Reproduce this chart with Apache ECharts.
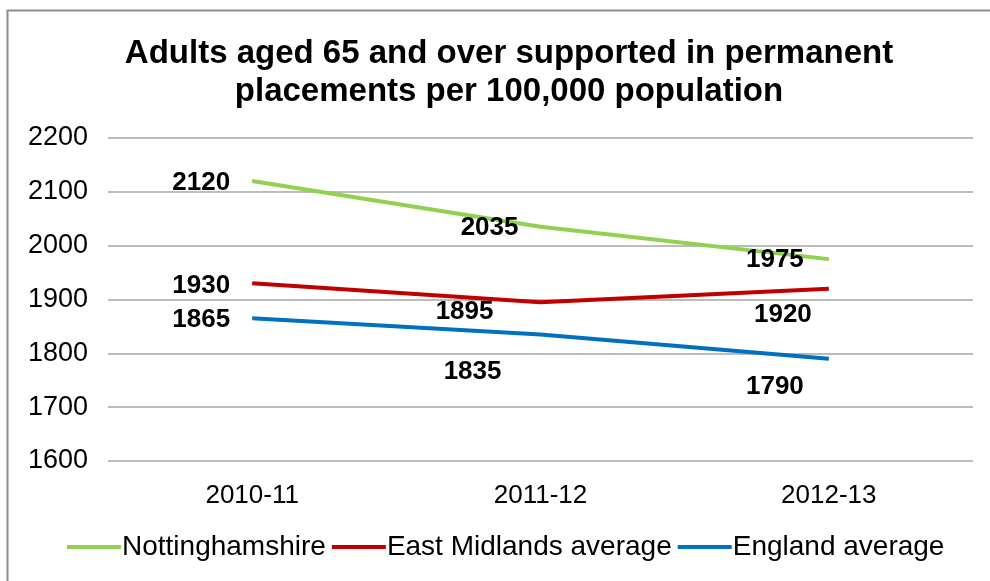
<!DOCTYPE html>
<html>
<head>
<meta charset="utf-8">
<script src="https://cdn.jsdelivr.net/npm/echarts@6/dist/echarts.min.js"></script>
<style>
  html, body { margin: 0; padding: 0; background: #fff; }
  #chart { width: 990px; height: 581px; }
</style>
</head>
<body>
<div id="chart"></div>
<script>
const categories = ['2010-11', '2011-12', '2012-13'];
const nottinghamshire = [2120, 2035, 1975];
const eastMidlands = [1930, 1895, 1920];
const england = [1865, 1835, 1790];

// label offsets per point, like the hand placed labels in the original
const nottsOffsets = [[0, 2], [0, 1], [-3, 1]];
const emOffsets = [[0, 2], [-25, 10], [5, 26]];
const engOffsets = [[0, 1], [-17, 37], [-3, 28]];

const chart = echarts.init(document.getElementById('chart'));

const makeData = (values, offsets) => values.map((v, i) => ({
  value: v,
  label: { offset: offsets[i] }
}));

const lineSeries = (name, color, values, offsets) => ({
  name: name,
  type: 'line',
  data: makeData(values, offsets),
  symbol: 'circle',
  symbolSize: 0.01,
  showSymbol: true,
  lineStyle: { color: color, width: 4 },
  itemStyle: { color: color },
  label: {
    show: true,
    position: 'left',
    distance: 22,
    fontFamily: 'Liberation Sans, Arial',
    fontWeight: 'bold',
    fontSize: 26,
    color: '#000'
  }
});

chart.setOption({
  animation: false,
  title: {
    text: 'Adults aged 65 and over supported in permanent\nplacements per 100,000 population',
    left: 504,
    textAlign: 'center',
    top: 30,
    textStyle: {
      fontFamily: 'Liberation Sans, Arial',
      fontWeight: 'bold',
      fontSize: 33,
      lineHeight: 38,
      color: '#000'
    }
  },
  graphic: [{
    type: 'rect',
    shape: { x: 7.5, y: 10.5, width: 1000, height: 600 },
    style: { fill: 'none', stroke: '#8c8c8c', lineWidth: 2 }
  }],
  legend: {
    bottom: 15,
    left: 62,
    itemGap: 6,
    itemWidth: 54,
    itemHeight: 4,
    icon: 'rect',
    textStyle: {
      fontFamily: 'Liberation Sans, Arial',
      fontSize: 28,
      color: '#000',
      padding: [0, 0, 0, -4]
    },
    data: ['Nottinghamshire', 'East Midlands average', 'England average']
  },
  grid: {
    left: 108,
    right: 17,
    top: 138,
    bottom: 120,
    containLabel: false
  },
  xAxis: {
    type: 'category',
    data: categories,
    axisLine: { show: false },
    axisTick: { show: false },
    axisLabel: {
      margin: 22,
      fontFamily: 'Liberation Sans, Arial',
      fontSize: 26,
      color: '#000'
    }
  },
  yAxis: {
    type: 'value',
    min: 1600,
    max: 2200,
    interval: 100,
    axisLine: { show: false },
    axisTick: { show: false },
    splitLine: { lineStyle: { color: '#a6a6a6', width: 1.5 } },
    axisLabel: {
      margin: 20,
      formatter: v => String(v),
      fontFamily: 'Liberation Sans, Arial',
      fontSize: 27,
      color: '#000'
    }
  },
  series: [
    lineSeries('Nottinghamshire', '#92D050', nottinghamshire, nottsOffsets),
    lineSeries('East Midlands average', '#C00000', eastMidlands, emOffsets),
    lineSeries('England average', '#0070C0', england, engOffsets)
  ]
});
</script>
</body>
</html>
